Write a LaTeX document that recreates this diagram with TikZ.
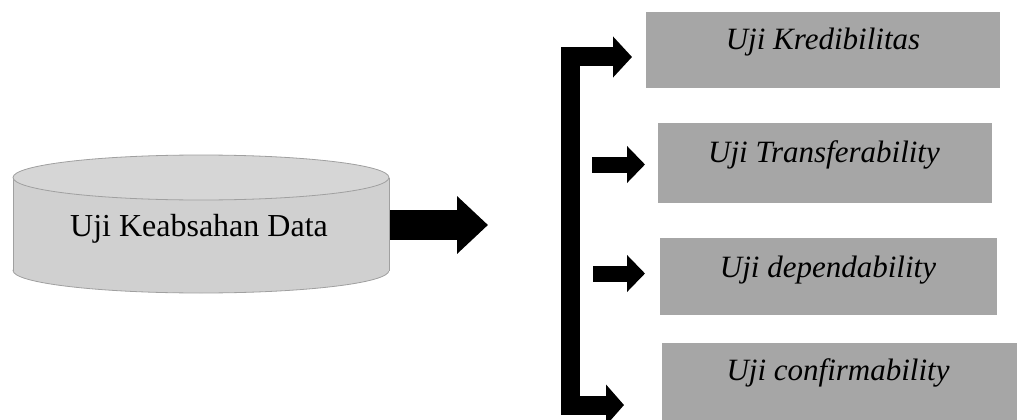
\documentclass[tikz,border=0pt]{standalone}
\usepackage{fontspec}
\setmainfont{Liberation Serif}
\usetikzlibrary{arrows.meta}
\definecolor{cylfill}{HTML}{D0D0D0}
\definecolor{cyltop}{HTML}{D6D6D6}
\definecolor{cylline}{HTML}{A0A0A0}
\definecolor{boxfill}{HTML}{A6A6A6}
\begin{document}
\begin{tikzpicture}[x=1pt,y=-1pt,
  gbox/.style={fill=boxfill,draw=none},
  lbl/.style={anchor=base,inner sep=0pt,font=\fontsize{31}{36}\selectfont\itshape},
  bigarrow/.style={line width=30pt,-{Triangle[length={31pt 0 0},width={56pt 0 0}]}},
  brk/.style={line width=19pt,line join=miter,{Triangle[length={19pt 0 0},width={40pt 0 0}]}-{Triangle[length={18pt 0 0},width={40pt 0 0}]}},
  smallarrow/.style={line width=16pt,-{Triangle[length={18pt 0 0},width={36pt 0 0}]}}]
\useasboundingbox (0,0) rectangle (1017,420);
% cylinder
\filldraw[fill=cylfill,draw=cylline,line width=0.8pt] (201,270.5) ellipse[x radius=188,y radius=22.5];
\fill[cylfill] (13,177.5) rectangle (389,270.5);
\draw[cylline,line width=0.8pt] (13,177.5) -- (13,270.5) (389,177.5) -- (389,270.5);
\filldraw[fill=cyltop,draw=cylline,line width=0.8pt] (201,177.5) ellipse[x radius=188,y radius=22.5];
\node[inner sep=0pt,font=\fontsize{32}{38}\selectfont] (cyl) at (199,229) {Uji Keabsahan Data};
% boxes
\fill[gbox] (646,12) rectangle (1000,88);
\fill[gbox] (658,123) rectangle (992,203);
\fill[gbox] (660,238) rectangle (997,315);
\fill[gbox] (662,343) rectangle (1017,420);
\coordinate (b1) at (646,57);
\coordinate (b2) at (658,164);
\coordinate (b3) at (660,273);
\coordinate (b4) at (662,405);
\node[lbl] (t1) at (823,50) {Uji Kredibilitas};
\node[lbl] (t2) at (824,162) {Uji Transferability};
\node[lbl] (t3) at (828,277) {Uji dependability};
\node[lbl] (t4) at (838,380) {Uji confirmability};
% arrows
\coordinate (ba) at (390,225);
\coordinate (bt) at (488,225);
\draw[bigarrow] (ba) -- (bt);
\coordinate (k1) at (632,57);
\coordinate (k4) at (624,405);
\draw[brk] (k1) -- (570,57) -- (570,405) -- (k4);
\coordinate (s2) at (592,164.5);
\coordinate (e2) at (645,164.5);
\draw[smallarrow] (s2) -- (e2);
\coordinate (s3) at (593,273.5);
\coordinate (e3) at (645,273.5);
\draw[smallarrow] (s3) -- (e3);
\end{tikzpicture}
\end{document}
